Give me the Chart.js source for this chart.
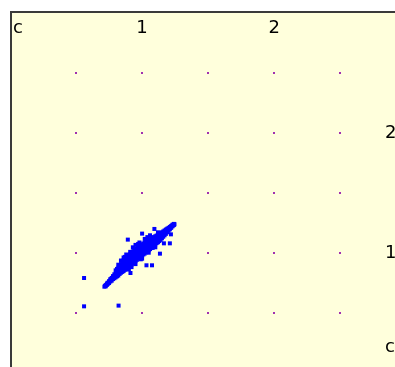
<!DOCTYPE html>
<html>
<head>
<meta charset="utf-8">
<script src="https://cdn.jsdelivr.net/npm/chart.js@4.4.0/dist/chart.umd.min.js"></script>
<style>
html,body{margin:0;padding:0;background:#ffffff;}
#wrap{position:relative;width:395px;height:367px;}
</style>
</head>
<body>
<div id="wrap"><canvas id="c" width="395" height="367"></canvas></div>
<script>
// ---- data ----
const xValues = [
0.715,0.72,0.725,0.725,0.73,0.735,0.735,0.74,0.74,0.75,0.75,0.75,
0.76,0.76,0.76,0.77,0.77,0.77,0.78,0.78,0.78,0.79,0.79,0.79,
0.80,0.80,0.80,0.80,0.81,0.81,0.81,0.82,0.82,0.82,0.82,
0.83,0.83,0.83,0.83,0.84,0.84,0.84,0.84,
0.85,0.85,0.85,0.85,0.85,0.86,0.86,0.86,0.86,0.86,
0.87,0.87,0.87,0.87,0.87,0.88,0.88,0.88,0.88,0.88,
0.89,0.89,0.89,0.89,0.89,0.90,0.90,0.90,0.90,0.90,
0.91,0.91,0.91,0.91,0.91,0.92,0.92,0.92,0.92,0.92,
0.93,0.93,0.93,0.93,0.93,0.94,0.94,0.94,0.94,0.94,
0.95,0.95,0.95,0.95,0.95,0.96,0.96,0.96,0.96,0.96,
0.97,0.97,0.97,0.97,0.97,0.98,0.98,0.98,0.98,0.98,
0.99,0.99,0.99,0.99,0.99,1.00,1.00,1.00,1.00,1.00,
1.01,1.01,1.01,1.01,1.01,1.02,1.02,1.02,1.02,1.02,
1.03,1.03,1.03,1.03,1.03,1.04,1.04,1.04,1.04,1.04,
1.05,1.05,1.05,1.05,1.05,1.06,1.06,1.06,1.06,1.06,
1.07,1.07,1.07,1.07,1.07,1.08,1.08,1.08,1.08,1.08,
1.09,1.09,1.09,1.09,1.09,1.10,1.10,1.10,1.10,1.10,
1.11,1.11,1.11,1.11,1.11,1.12,1.12,1.12,1.12,
1.13,1.13,1.13,1.13,1.14,1.14,1.14,1.14,
1.15,1.15,1.15,1.16,1.16,1.16,1.17,1.17,1.17,
1.18,1.18,1.18,1.19,1.19,1.19,1.20,1.20,1.20,
1.21,1.21,1.21,1.22,1.22,1.22,1.23,1.23,1.23,
1.24,1.24,1.24,1.245,
// ragged edges
0.82,0.84,0.86,0.88,0.93,0.95,0.98,1.02,1.06,0.90,0.95,1.00,1.05,1.10,0.87,1.12,
0.91,0.97,1.04,0.92,0.99,1.08,
// outliers
0.561,0.561,0.822,0.892,1.000,0.912,1.033,1.075,1.135,1.165,1.210,1.218,1.093
];
const yValues = [
0.722,0.728,0.735,0.725,0.738,0.748,0.738,0.745,0.755,0.752,0.768,0.760,
0.765,0.785,0.775,0.772,0.795,0.785,0.785,0.810,0.798,0.792,0.825,0.808,
0.800,0.858,0.830,0.815,0.808,0.870,0.840,0.815,0.880,0.848,0.862,
0.828,0.900,0.865,0.845,0.838,0.910,0.872,0.892,
0.845,0.925,0.885,0.862,0.905,0.852,0.940,0.895,0.875,0.918,
0.862,0.950,0.905,0.885,0.928,0.868,0.962,0.915,0.892,0.940,
0.878,0.975,0.925,0.900,0.950,0.888,0.985,0.935,0.910,0.962,
0.898,0.995,0.945,0.920,0.972,0.905,1.005,0.955,0.930,0.980,
0.915,1.015,0.965,0.940,0.990,0.925,1.025,0.972,0.948,1.000,
0.935,1.035,0.982,0.958,1.010,0.945,1.040,0.990,0.968,1.015,
0.955,1.050,1.000,0.978,1.025,0.965,1.060,1.008,0.985,1.035,
0.972,1.068,1.018,0.995,1.042,0.980,1.075,1.025,1.002,1.050,
0.990,1.082,1.032,1.010,1.058,0.998,1.090,1.040,1.018,1.065,
1.008,1.098,1.048,1.028,1.072,1.015,1.105,1.055,1.035,1.080,
1.025,1.110,1.065,1.045,1.088,1.035,1.118,1.072,1.052,1.095,
1.045,1.125,1.080,1.062,1.102,1.055,1.130,1.090,1.072,1.110,
1.065,1.135,1.098,1.082,1.118,1.075,1.142,1.105,1.090,1.125,
1.085,1.148,1.112,1.098,1.130,1.092,1.152,1.120,1.138,
1.102,1.160,1.130,1.145,1.112,1.168,1.140,1.155,
1.125,1.175,1.150,1.138,1.182,1.160,1.150,1.190,1.170,
1.162,1.198,1.180,1.175,1.205,1.190,1.188,1.212,1.200,
1.200,1.220,1.210,1.212,1.228,1.220,1.225,1.238,1.232,
1.235,1.245,1.240,1.242,
// ragged edges
0.905,0.940,0.965,0.990,1.050,1.070,1.090,1.120,1.150,0.865,0.910,0.955,1.005,1.050,0.970,1.175,
1.012,1.078,1.135,0.885,0.950,1.045,
// outliers
0.794,0.558,0.564,1.114,1.164,0.836,0.900,0.900,0.997,1.083,1.083,1.158,1.203
];
const gridXValues = [0.5, 1.0, 1.5, 2.0, 2.5];
const gridYValues = [0.5, 1.0, 1.5, 2.0, 2.5];
const topTickValues = [0.06, 1, 2];
const topTickLabels = ['c', '1', '2'];
const rightTickValues = [2, 1, 0.22];
const rightTickLabels = ['2', '1', 'c'];

const points = xValues.map((x, i) => ({x: x, y: yValues[i]}));

const decor = {
  id: 'decor',
  beforeDatasetsDraw(chart) {
    const {ctx, chartArea: a, scales: {x, y}} = chart;
    ctx.save();
    ctx.fillStyle = '#ffffdc';
    ctx.fillRect(a.left, a.top, a.right - a.left, a.bottom - a.top);
    // grid dots
    ctx.fillStyle = '#a030b0';
    gridXValues.forEach(gx => {
      gridYValues.forEach(gy => {
        const px = Math.round(x.getPixelForValue(gx));
        const py = Math.round(y.getPixelForValue(gy));
        ctx.fillRect(px - 1, py - 1, 2, 2);
      });
    });
    // borders
    ctx.strokeStyle = '#3a3a3a';
    ctx.lineWidth = 2;
    ctx.beginPath();
    ctx.moveTo(a.left - 1, a.bottom);
    ctx.lineTo(a.left - 1, a.top - 1);
    ctx.lineTo(a.right, a.top - 1);
    ctx.stroke();
    // labels
    ctx.fillStyle = '#000000';
    ctx.font = '18px "DejaVu Sans", sans-serif';
    ctx.textBaseline = 'middle';
    ctx.textAlign = 'center';
    topTickValues.forEach((v, i) => {
      ctx.fillText(topTickLabels[i], x.getPixelForValue(v), a.top + 15);
    });
    ctx.textAlign = 'left';
    rightTickValues.forEach((v, i) => {
      ctx.fillText(rightTickLabels[i], a.right - 10, y.getPixelForValue(v));
    });
    ctx.restore();
  }
};

new Chart(document.getElementById('c'), {
  type: 'scatter',
  data: {
    datasets: [{
      data: points,
      backgroundColor: '#0000ff',
      borderWidth: 0,
      pointStyle: 'rect',
      pointRadius: 2.83,
      pointHoverRadius: 2.83
    }]
  },
  options: {
    responsive: false,
    animation: false,
    events: [],
    layout: {autoPadding: false, padding: {left: 12, top: 13, right: 0, bottom: 0}},
    plugins: {legend: {display: false}, tooltip: {enabled: false}},
    scales: {
      x: {type: 'linear', min: 0.0159, max: 2.913, display: false},
      y: {type: 'linear', min: 0.0525, max: 3.0025, display: false}
    }
  },
  plugins: [decor]
});
</script>
</body>
</html>
